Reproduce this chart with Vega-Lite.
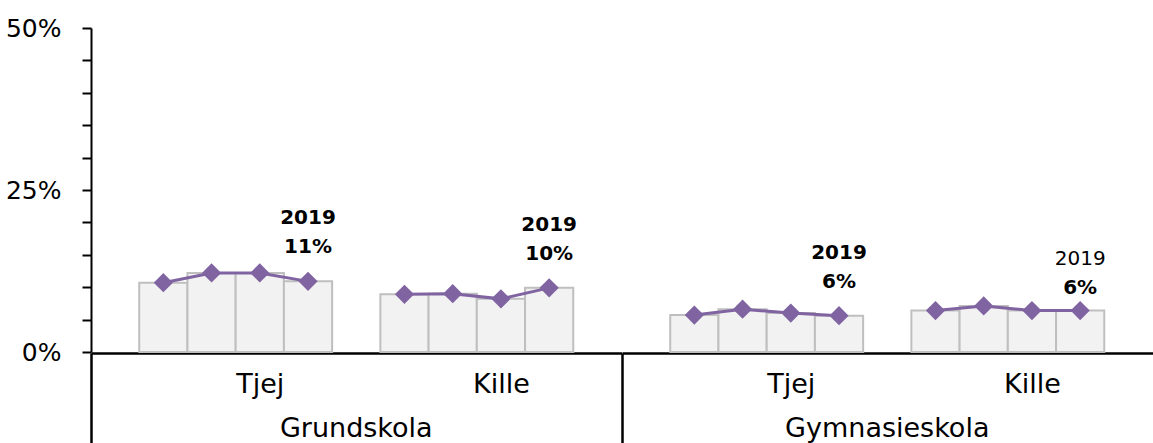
{
  "$schema": "https://vega.github.io/schema/vega-lite/v6.json",
  "padding": {"left": 5, "top": 16, "right": 0, "bottom": 0},
  "config": {
    "view": {"stroke": null},
    "font": "DejaVu Sans"
  },
  "data": {
    "values": [
      {"skolform": "Grundskola", "kon": "Tjej", "ar": "2016", "andel": 0.107},
      {"skolform": "Grundskola", "kon": "Tjej", "ar": "2017", "andel": 0.122},
      {"skolform": "Grundskola", "kon": "Tjej", "ar": "2018", "andel": 0.122},
      {"skolform": "Grundskola", "kon": "Tjej", "ar": "2019", "andel": 0.109},
      {"skolform": "Grundskola", "kon": "Kille", "ar": "2016", "andel": 0.089},
      {"skolform": "Grundskola", "kon": "Kille", "ar": "2017", "andel": 0.090},
      {"skolform": "Grundskola", "kon": "Kille", "ar": "2018", "andel": 0.082},
      {"skolform": "Grundskola", "kon": "Kille", "ar": "2019", "andel": 0.099},
      {"skolform": "Gymnasieskola", "kon": "Tjej", "ar": "2016", "andel": 0.057},
      {"skolform": "Gymnasieskola", "kon": "Tjej", "ar": "2017", "andel": 0.066},
      {"skolform": "Gymnasieskola", "kon": "Tjej", "ar": "2018", "andel": 0.060},
      {"skolform": "Gymnasieskola", "kon": "Tjej", "ar": "2019", "andel": 0.056},
      {"skolform": "Gymnasieskola", "kon": "Kille", "ar": "2016", "andel": 0.064},
      {"skolform": "Gymnasieskola", "kon": "Kille", "ar": "2017", "andel": 0.071},
      {"skolform": "Gymnasieskola", "kon": "Kille", "ar": "2018", "andel": 0.064},
      {"skolform": "Gymnasieskola", "kon": "Kille", "ar": "2019", "andel": 0.064}
    ]
  },
  "spacing": 0,
  "facet": {
    "column": {
      "field": "skolform",
      "type": "nominal",
      "sort": ["Grundskola", "Gymnasieskola"],
      "header": {
        "title": null,
        "labelOrient": "bottom",
        "labelFontSize": 27,
        "labelColor": "#000000",
        "labelPadding": -28
      }
    }
  },
  "spec": {
    "width": 530.5,
    "height": 324,
    "encoding": {
      "x": {
        "field": "kon",
        "type": "nominal",
        "sort": ["Tjej", "Kille"],
        "scale": {"paddingInner": 0.2, "paddingOuter": 0.2},
        "axis": {
          "title": null,
          "labelAngle": 0,
          "labelFontSize": 27,
          "labelColor": "#000000",
          "tickOffset": -144.68,
          "labelOffset": 168.7,
          "labelPadding": -72,
          "tickSize": 90,
          "tickWidth": 2.5,
          "tickColor": {"condition": {"test": "datum.value === 'Kille'", "value": "transparent"}, "value": "#000000"},
          "domainColor": "#000000",
          "domainWidth": 2.5
        }
      },
      "xOffset": {
        "field": "ar",
        "type": "nominal",
        "sort": ["2016", "2017", "2018", "2019"],
        "scale": {"paddingInner": 0, "paddingOuter": 0}
      },
      "y": {
        "field": "andel",
        "type": "quantitative",
        "scale": {"domain": [0, 0.5], "nice": false},
        "axis": {
          "title": null,
          "grid": false,
          "values": [0, 0.05, 0.1, 0.15, 0.2, 0.25, 0.3, 0.35, 0.4, 0.45, 0.5],
          "format": ".0%",
          "labelExpr": "datum.value == 0 || datum.value == 0.25 || datum.value == 0.5 ? datum.label : ''",
          "labelFontSize": 25,
          "labelColor": "#000000",
          "labelPadding": 21,
          "minExtent": 82,
          "maxExtent": 82,
          "tickSize": 9,
          "tickWidth": 2,
          "tickColor": "#000000",
          "domainColor": "#000000",
          "domainWidth": 2
        }
      }
    },
    "layer": [
      {
        "mark": {"type": "bar", "fill": "#F2F2F2", "stroke": "#BFBFBF", "strokeWidth": 2}
      },
      {
        "mark": {"type": "line", "color": "#8064A2", "strokeWidth": 3},
        "encoding": {
          "detail": {"field": "kon"},
          "order": {"field": "ar"}
        }
      },
      {
        "mark": {"type": "point", "shape": "diamond", "size": 370, "filled": true, "opacity": 1, "color": "#8064A2"}
      },
      {
        "transform": [{"filter": "datum.ar == '2019' && !(datum.skolform == 'Gymnasieskola' && datum.kon == 'Kille')"}],
        "mark": {"type": "text", "fontSize": 20, "fontWeight": "bold", "color": "#000000", "baseline": "middle", "dy": -63},
        "encoding": {"text": {"field": "ar"}}
      },
      {
        "transform": [{"filter": "datum.ar == '2019' && !(datum.skolform == 'Gymnasieskola' && datum.kon == 'Kille')"}],
        "mark": {"type": "text", "fontSize": 20, "fontWeight": "bold", "color": "#000000", "baseline": "middle", "dy": -34},
        "encoding": {"text": {"field": "andel", "type": "quantitative", "format": ".0%"}}
      },
      {
        "transform": [{"filter": "datum.ar == '2019' && datum.skolform == 'Gymnasieskola' && datum.kon == 'Kille'"}],
        "mark": {"type": "text", "fontSize": 20, "fontWeight": "normal", "color": "#000000", "baseline": "middle", "dy": -52},
        "encoding": {"text": {"field": "ar"}}
      },
      {
        "transform": [{"filter": "datum.ar == '2019' && datum.skolform == 'Gymnasieskola' && datum.kon == 'Kille'"}],
        "mark": {"type": "text", "fontSize": 20, "fontWeight": "bold", "color": "#000000", "baseline": "middle", "dy": -23},
        "encoding": {"text": {"field": "andel", "type": "quantitative", "format": ".0%"}}
      }
    ]
  }
}
